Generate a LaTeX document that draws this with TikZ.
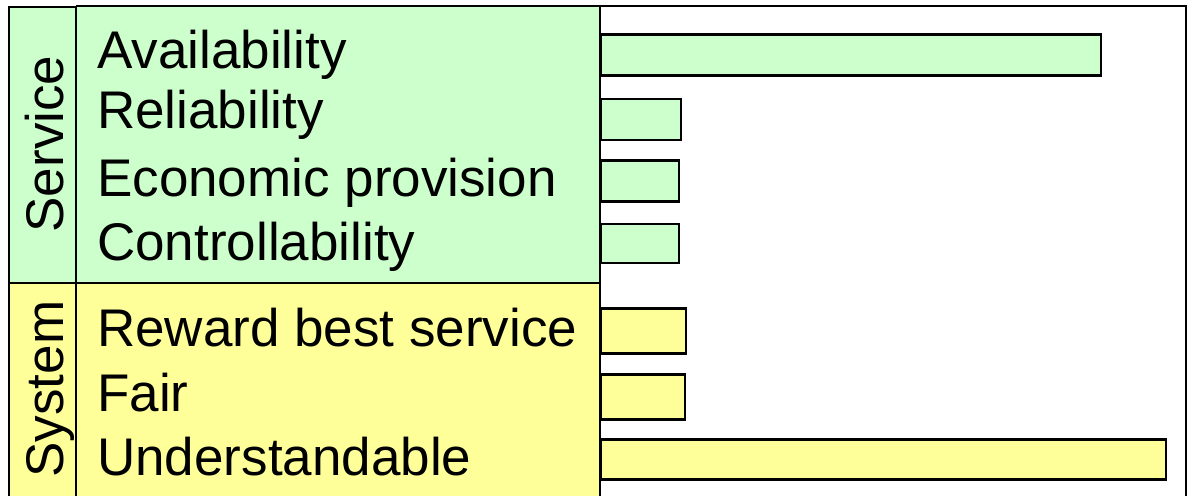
\documentclass[tikz,border=0pt]{standalone}
\usepackage{fontspec}
\setmainfont{Liberation Sans}
\definecolor{svcgreen}{HTML}{CCFFCC}
\definecolor{sysyellow}{HTML}{FFFF99}
\tikzset{
  px/.style={x=1pt,y=-1pt},
  frameline/.style={draw=black,line width=2pt},
  bar/.style={draw=black,line width=2.2pt,inner sep=0pt,minimum height=41pt,anchor=west},
  rowlabel/.style={anchor=base west,inner sep=0pt,font=\fontsize{53}{60}\selectfont},
  grouplabel/.style={anchor=base,rotate=90,inner sep=0pt,font=\fontsize{53}{60}\selectfont},
}
\begin{document}
\begin{tikzpicture}[px]
\useasboundingbox (0,0) rectangle (1188,495);
\clip (0,0) rectangle (1188,495);
% panels
\fill[svcgreen] (9,7) rectangle (600,283);
\fill[sysyellow] (9,283) rectangle (600,500);
\fill[white] (600,6) rectangle (1186,500);
% frame lines
\draw[frameline] (9,500) -- (9,7) -- (76,7);
\draw[frameline] (76,6) -- (1186,6) -- (1186,500);
\draw[frameline] (76,6) -- (76,500);
\draw[frameline] (600,6) -- (600,500);
\draw[frameline] (9,283) -- (600,283);
% group labels
\node[grouplabel] (service) at (63,144) {Service};
\node[grouplabel] (system) at (63,389) {System};
% row labels
\node[rowlabel] (l1) at (97,68) {Availability};
\node[rowlabel] (l2) at (97,128.5) {Reliability};
\node[rowlabel] (l3) at (97,196.5) {Economic provision};
\node[rowlabel] (l4) at (97,260.5) {Controllability};
\node[rowlabel] (l5) at (97,346.5) {Reward best service};
\node[rowlabel] (l6) at (97,411.5) {Fair};
\node[rowlabel] (l7) at (97,475) {Understandable};
% bars
\node[bar,fill=svcgreen,minimum width=500pt] (b1) at (600,55) {};
\node[bar,fill=svcgreen,minimum width=80pt] (b2) at (600,119.5) {};
\node[bar,fill=svcgreen,minimum width=78pt] (b3) at (600,181) {};
\node[bar,fill=svcgreen,minimum width=78pt,minimum height=39pt] (b4) at (600,243.5) {};
\node[bar,fill=sysyellow,minimum width=85pt,minimum height=45pt] (b5) at (600,331) {};
\node[bar,fill=sysyellow,minimum width=84pt,minimum height=45pt] (b6) at (600,397) {};
\node[bar,fill=sysyellow,minimum width=565pt,minimum height=40pt] (b7) at (600,459.5) {};
\end{tikzpicture}
\end{document}
